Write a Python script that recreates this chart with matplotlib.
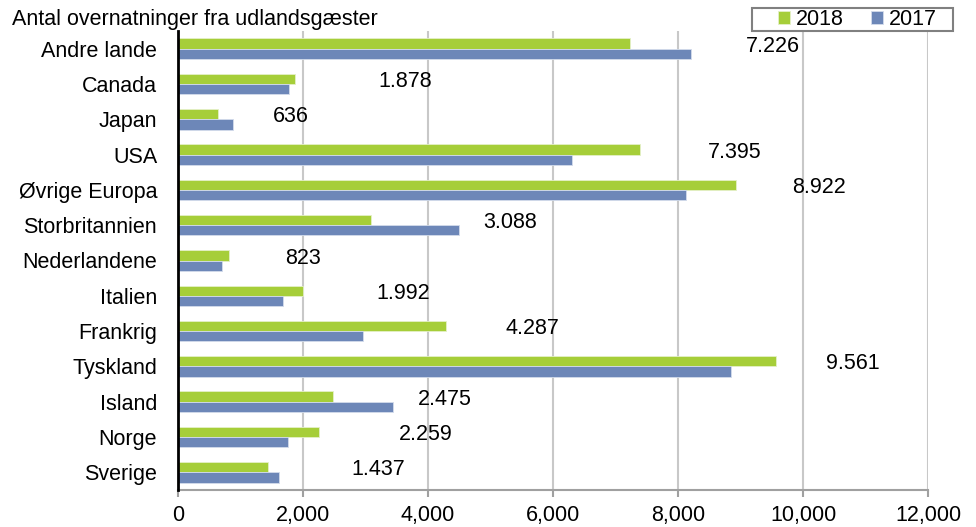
import numpy as np
import matplotlib
matplotlib.use("Agg")
import matplotlib.pyplot as plt
from matplotlib.patches import Rectangle
from matplotlib.ticker import FuncFormatter

plt.rcParams['font.family'] = ['Liberation Sans', 'DejaVu Sans']

# Data (top to bottom as shown)
countries = ['Andre lande', 'Canada', 'Japan', 'USA', 'Øvrige Europa', 'Storbritannien',
             'Nederlandene', 'Italien', 'Frankrig', 'Tyskland', 'Island', 'Norge', 'Sverige']
v2018 = [7226, 1878, 636, 7395, 8922, 3088, 823, 1992, 4287, 9561, 2475, 2259, 1437]
v2017 = [8200, 1775, 880, 6300, 8120, 4500, 705, 1680, 2955, 8850, 3435, 1760, 1615]
# where Excel left the (hand-moved) value labels, x in data units
label_x = [9514, 3630, 1805, 8908, 10250, 5306, 1998, 3608, 5677, 10795, 4270, 3970, 3198]

green = '#A6CE39'
blue = '#6D87B8'
fs = 15.5
W, H = 976, 527

fig = plt.figure(figsize=(9.76, 5.27), dpi=100)
# plot area in pixels: x 178..928, y 31..490
ax = fig.add_axes([178 / W, 1 - 490 / H, 750 / W, 459 / H])

y = np.arange(len(countries))
h = 0.29
ax.barh(y - h / 2, v2018, height=h, color=green, edgecolor='#E4F0C8', linewidth=0.6, label='2018', zorder=3)
ax.barh(y + h / 2, v2017, height=h, color=blue, edgecolor='#D3DCEB', linewidth=0.6, label='2017', zorder=3)

for yi, lx, val in zip(y, label_x, v2018):
    txt = f'{val:,}'.replace(',', '.')
    ax.text(lx, yi - 0.07, txt, ha='center', va='center', fontsize=fs, color='black', zorder=4)

ax.set_xlim(0, 12000)
ax.set_ylim(len(countries) - 0.5, -0.5)
ax.set_xticks(np.arange(0, 12001, 2000))
ax.xaxis.set_major_formatter(FuncFormatter(lambda v, p: f'{int(v):,}'))
ax.set_yticks(y)
ax.set_yticklabels(countries)
ax.tick_params(axis='y', length=0, pad=15, labelsize=fs)
ax.tick_params(axis='x', length=5, width=1.5, color='#A0A0A0', pad=6, labelsize=fs)

ax.grid(axis='x', color='#C8C8C8', linewidth=1.5, zorder=0)
for s in ['top', 'right']:
    ax.spines[s].set_visible(False)
ax.spines['left'].set_color('black')
ax.spines['left'].set_linewidth(2)
ax.spines['left'].set_zorder(5)
ax.spines['bottom'].set_color('#A0A0A0')
ax.spines['bottom'].set_linewidth(1.5)

fig.text(12 / W, 1 - 20 / H, 'Antal overnatninger fra udlandsgæster', fontsize=fs,
         ha='left', va='center')

# legend: Excel-style box with wide padding
fig.patches.append(Rectangle((752 / W, 1 - 31 / H), (953 - 752) / W, 23 / H,
                             transform=fig.transFigure, facecolor='white',
                             edgecolor='#808080', linewidth=1.5, zorder=1))
leg = fig.legend(loc='center left', bbox_to_anchor=(778 / W, 1 - 19.5 / H), ncol=2,
                 fontsize=fs, frameon=False, handlelength=0.56, handleheight=0.56,
                 handletextpad=0.25, columnspacing=1.3, borderpad=0, borderaxespad=0)
leg.set_zorder(2)

fig.savefig('out.png', dpi=100)
